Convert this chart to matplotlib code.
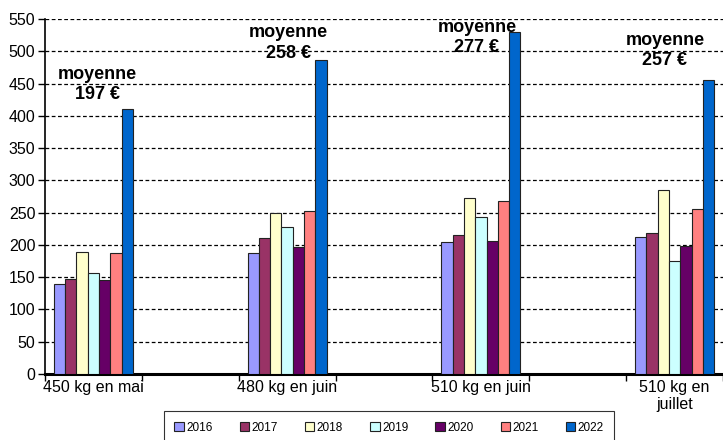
import numpy as np
import matplotlib
matplotlib.use('Agg')
import matplotlib.pyplot as plt

plt.rcParams['font.family'] = ['Liberation Sans Narrow', 'Liberation Sans', 'DejaVu Sans']

categories = ['450 kg en mai', '', '480 kg en juin', '', '510 kg en juin', '', '510 kg en\njuillet']
years = ['2016', '2017', '2018', '2019', '2020', '2021', '2022']
colors = ['#9999FF', '#993366', '#FFFFCC', '#CCFFFF', '#660066', '#FF8080', '#0066CC']

# une ligne par annee, une colonne par categorie (None = categorie vide)
values = {
    '2016': [140, None, 187, None, 204, None, 212],
    '2017': [147, None, 210, None, 216, None, 219],
    '2018': [189, None, 250, None, 273, None, 285],
    '2019': [157, None, 227, None, 243, None, 175],
    '2020': [145, None, 197, None, 206, None, 199],
    '2021': [187, None, 253, None, 268, None, 255],
    '2022': [411, None, 486, None, 530, None, 456],
}
moyennes = ['197 €', '258 €', '277 €', '257 €']
moy_pos = [(0.04, 449), (2.01, 513), (3.96, 521), (5.9, 501)]

fig = plt.figure(figsize=(7.23, 4.40), dpi=100)
ax = fig.add_axes([45 / 723, 66 / 440, 678 / 723, 355 / 440])

n = len(years)
w = 0.1167
for i, y in enumerate(years):
    xs = [k for k, v in enumerate(values[y]) if v is not None]
    hs = [v for v in values[y] if v is not None]
    off = (i - (n - 1) / 2) * w
    ax.bar(np.array(xs) + off, hs, width=w, color=colors[i], edgecolor='#222222',
           linewidth=0.8, label=y, zorder=3)

for (x, yv), m in zip(moy_pos, moyennes):
    ax.text(x, yv, 'moyenne\n' + m, ha='center', va='center', fontsize=13,
            fontweight='bold', linespacing=1.25, zorder=4)

ax.set_xlim(-0.5, 6.5)
ax.set_ylim(0, 550)
ax.set_yticks(np.arange(0, 551, 50))
ax.yaxis.grid(True, linestyle=(0, (3, 2)), color='black', linewidth=0.9, zorder=0)
ax.set_xticks(np.arange(-0.5, 6.6, 1))
ax.set_xticklabels([])
ax.set_xticks(range(7), minor=True)
ax.set_xticklabels(categories, minor=True, fontsize=11.5)
ax.tick_params(axis='x', which='minor', length=0, pad=4)
ax.tick_params(axis='x', which='major', length=5, width=1)
ax.tick_params(axis='y', labelsize=11.5, length=5, width=1, pad=2)

for s in ['top', 'right']:
    ax.spines[s].set_visible(False)
ax.spines['left'].set_linewidth(1.2)
ax.spines['bottom'].set_linewidth(2.2)

leg = ax.legend(loc='upper center', bbox_to_anchor=(389 / 723, 35 / 440),
                bbox_transform=fig.transFigure, ncol=7, fontsize=8.5, frameon=True,
                fancybox=False, edgecolor='black', handlelength=0.8, handleheight=0.8,
                handletextpad=0.2, columnspacing=2.3, borderpad=0.9)
leg.get_frame().set_linewidth(0.8)

fig.savefig('out.png', dpi=100)
